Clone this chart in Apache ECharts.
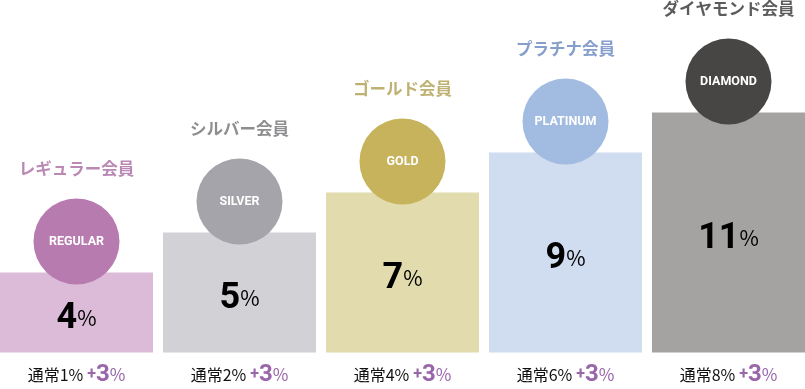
<!DOCTYPE html>
<html><head><meta charset="utf-8">
<script src="https://cdn.jsdelivr.net/npm/echarts@6/dist/echarts.min.js"></script>
<style>html,body{margin:0;padding:0;background:#fff}#c{width:805px;height:389px}</style>
</head><body><div id="c"></div>
<script>
const categories = ['レギュラー会員','シルバー会員','ゴールド会員','プラチナ会員','ダイヤモンド会員'];
const badges = ['REGULAR','SILVER','GOLD','PLATINUM','DIAMOND'];
const barLevels = [2,3,4,5,6];
const rates = [4,5,7,9,11];
const baseRates = [1,2,4,6,8];
const bonus = [3,3,3,3,3];

const barColors = ['#dcbbd8','#d2d1d6','#e2dbad','#d0dcef','#a4a3a2'];
const circleColors = ['#b87bb0','#a6a4ab','#c6b35b','#a2bbe0','#474645'];
const titleColors = ['#a86ca1','#707073','#ae9d4f','#6786bf','#333333'];

const idx = categories.map((c,i)=>i);
const chart = echarts.init(document.getElementById('c'));
chart.setOption({
  animation:false,
  grid:{left:0,right:0,top:32.5,bottom:36.5},
  xAxis:{type:'value',min:-76.5/163,max:(805-76.5)/163,splitLine:{show:false},
    axisLine:{show:false},axisTick:{show:false},
    axisLabel:{margin:10,customValues:idx,
      formatter:(v)=>{const i=Math.round(v);return `{a|通常${baseRates[i]}%}{p| +}{b|${bonus[i]}}{q|%}`;},
      rich:{
        a:{fontFamily:'Noto Sans CJK JP',fontSize:16,color:'#111'},
        p:{fontFamily:'Roboto',fontSize:16,color:'#9966aa',fontWeight:'bold'},
        b:{fontFamily:'Roboto',fontSize:24,color:'#9966aa',fontWeight:'bold'},
        q:{fontFamily:'Noto Sans CJK JP',fontSize:17,color:'#9966aa'}
      }}},
  yAxis:{type:'value',min:0,max:8,show:false,splitLine:{show:false}},
  series:[
    {type:'bar',barWidth:153,z:1,
     data:barLevels.map((v,i)=>({value:[i,v],itemStyle:{color:barColors[i]}})),
     label:{show:true,position:'inside',offset:[0,6],
       formatter:p=>`{n|${rates[p.dataIndex]}}{p|%}`,
       rich:{n:{fontFamily:'Roboto',fontSize:36,fontWeight:'bold',color:'#000'},
             p:{fontFamily:'Noto Sans CJK JP',fontSize:21,color:'#000'}}}},
    {type:'scatter',z:3,symbol:'circle',symbolSize:86,symbolOffset:[0,-31],
     data:barLevels.map((v,i)=>({value:[i,v],itemStyle:{color:circleColors[i],opacity:1}})),
     label:{show:true,position:'inside',formatter:p=>badges[p.dataIndex],
       color:'#fff',fontFamily:'Roboto',fontWeight:'bold',fontSize:12.5}},
    {type:'scatter',z:4,symbol:'circle',symbolSize:1,symbolOffset:[0,-104],
     itemStyle:{color:'rgba(0,0,0,0)'},
     data:barLevels.map((v,i)=>({value:[i,v],label:{color:titleColors[i]}})),
     label:{show:true,position:'inside',formatter:p=>categories[p.dataIndex],
       fontFamily:'Noto Sans CJK JP',fontWeight:'bold',fontSize:16.5}}
  ]
});
</script></body></html>
